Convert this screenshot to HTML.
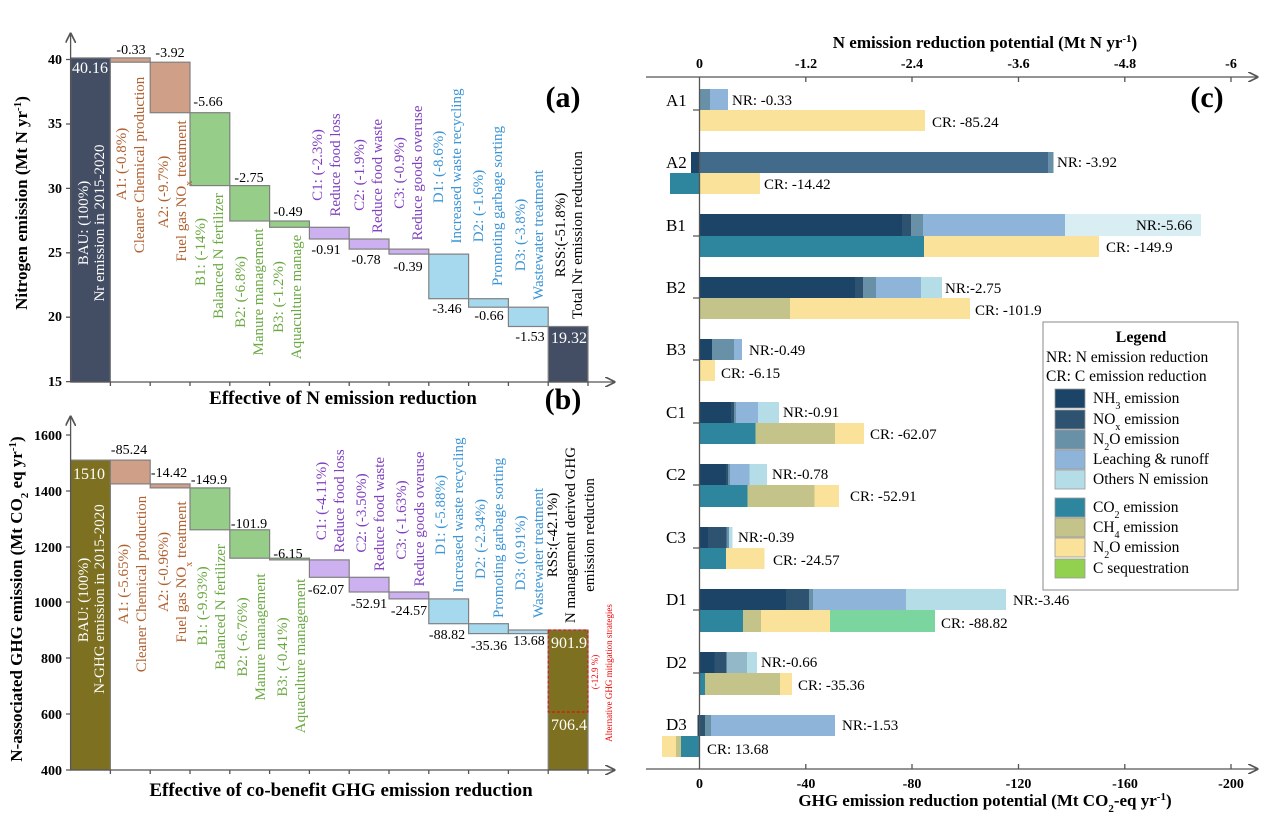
<!DOCTYPE html>
<html><head><meta charset="utf-8"><style>
html,body{margin:0;padding:0;background:#fff}
svg{display:block;font-family:"Liberation Serif",serif}
.v{font-size:14px;fill:#000}
.tk{font-size:14px;font-weight:bold}
.lb{font-size:15px}
</style></head><body>
<svg width="1268" height="820" viewBox="0 0 1268 820" xmlns="http://www.w3.org/2000/svg">
<defs><marker id="ar" markerWidth="8" markerHeight="8" refX="7" refY="4" orient="auto"><path d="M0,0 L8,4 L0,8" fill="none" stroke="#555" stroke-width="1.3"/></marker></defs>

<!-- ===== Panel (a) ===== -->
<g stroke="#808080" stroke-width="1.2">
<rect x="70.6" y="57.9" width="39.8" height="324.1" fill="#434d63"/>
<rect x="110.4" y="57.9" width="39.8" height="4.3" fill="#cf9f88"/>
<rect x="150.2" y="62.2" width="39.8" height="50.5" fill="#cf9f88"/>
<rect x="190" y="112.7" width="39.8" height="72.9" fill="#96cd88"/>
<rect x="229.8" y="185.6" width="39.8" height="35.4" fill="#96cd88"/>
<rect x="269.6" y="221" width="39.8" height="6.3" fill="#96cd88"/>
<rect x="309.4" y="227.3" width="39.8" height="11.7" fill="#cdb0ef"/>
<rect x="349.2" y="239" width="39.8" height="10.1" fill="#cdb0ef"/>
<rect x="389" y="249.1" width="39.8" height="5" fill="#cdb0ef"/>
<rect x="428.8" y="254.1" width="39.8" height="44.6" fill="#a6d9ee"/>
<rect x="468.6" y="298.7" width="39.8" height="8.5" fill="#a6d9ee"/>
<rect x="508.4" y="307.2" width="39.8" height="19.3" fill="#a6d9ee"/>
<rect x="548.2" y="326.5" width="39.8" height="55.5" fill="#434d63"/>
</g>
<g stroke="#555" stroke-width="1.3">
<line x1="70.6" y1="382" x2="70.6" y2="34" marker-end="url(#ar)"/>
<line x1="70.6" y1="382" x2="614" y2="382" marker-end="url(#ar)"/>
<path d="M66,59.5h5M66,124h5M66,188.4h5M66,252.8h5M66,317.2h5M66,381.6h5"/>
<path d="M110.4,382v4M150.2,382v4M190,382v4M229.8,382v4M269.6,382v4M309.4,382v4M349.2,382v4M389,382v4M428.8,382v4M468.6,382v4M508.4,382v4M548.2,382v4M588,382v4"/>
</g>
<g class="tk" text-anchor="end">
<text x="62" y="64">40</text><text x="62" y="128">35</text><text x="62" y="193">30</text>
<text x="62" y="257">25</text><text x="62" y="321">20</text><text x="62" y="386">15</text>
</g>
<text transform="translate(27,203) rotate(-90)" text-anchor="middle" font-size="17" font-weight="bold">Nitrogen emission (Mt N yr<tspan baseline-shift="super" font-size="11">-1</tspan>)</text>
<text x="343" y="404" text-anchor="middle" font-size="19" font-weight="bold">Effective of N emission reduction</text>
<text x="563" y="107" text-anchor="middle" font-size="30" font-weight="bold">(a)</text>
<text x="563" y="409" text-anchor="middle" font-size="30" font-weight="bold">(b)</text>
<g class="v" text-anchor="middle">
<text x="131" y="54">-0.33</text><text x="170" y="57">-3.92</text><text x="208" y="106">-5.66</text>
<text x="249" y="182">-2.75</text><text x="288" y="216">-0.49</text><text x="326" y="254">-0.91</text>
<text x="366" y="264">-0.78</text><text x="408" y="271">-0.39</text><text x="447" y="313">-3.46</text>
<text x="489" y="320">-0.66</text><text x="530" y="341">-1.53</text>
<text x="90" y="73" fill="#fff" style="fill:#fff;font-size:16px">40.16</text>
<text x="569" y="343" style="fill:#fff;font-size:16px">19.32</text>
</g>
<g class="lb" text-anchor="middle">
<g fill="#fff"><text transform="translate(88,223) rotate(-90)">BAU: (100%)</text><text transform="translate(104,223) rotate(-90)">Nr emission in 2015-2020</text></g>
<g fill="#b0602f">
<text transform="translate(126,164) rotate(-90)">A1: (-0.8%)</text><text transform="translate(144,165) rotate(-90)">Cleaner Chemical production</text>
<text transform="translate(168,192) rotate(-90)">A2: (-9.7%)</text><text transform="translate(186,191) rotate(-90)">Fuel gas NO<tspan baseline-shift="sub" font-size="10">x</tspan> treatment</text></g>
<g fill="#6aa842">
<text transform="translate(205,252) rotate(-90)">B1: (-14%)</text><text transform="translate(223,256) rotate(-90)">Balanced N fertilizer</text>
<text transform="translate(245,292) rotate(-90)">B2: (-6.8%)</text><text transform="translate(263,292) rotate(-90)">Manure management</text>
<text transform="translate(283,297) rotate(-90)">B3: (-1.2%)</text><text transform="translate(301,297) rotate(-90)">Aquaculture manage</text></g>
<g fill="#8040c0">
<text transform="translate(322,165) rotate(-90)">C1: (-2.3%)</text><text transform="translate(340,165) rotate(-90)">Reduce food loss</text>
<text transform="translate(364,175) rotate(-90)">C2: (-1.9%)</text><text transform="translate(382,176) rotate(-90)">Reduce food waste</text>
<text transform="translate(404,173) rotate(-90)">C3: (-0.9%)</text><text transform="translate(422,173) rotate(-90)">Reduce goods overuse</text></g>
<g fill="#3a94d6">
<text transform="translate(443,167) rotate(-90)">D1: (-8.6%)</text><text transform="translate(461,166) rotate(-90)">Increased waste recycling</text>
<text transform="translate(483,206) rotate(-90)">D2: (-1.6%)</text><text transform="translate(502,206) rotate(-90)">Promoting garbage sorting</text>
<text transform="translate(525,235) rotate(-90)">D3: (-3.8%)</text><text transform="translate(543,235) rotate(-90)">Wastewater treatment</text></g>
<g fill="#000"><text transform="translate(565,235) rotate(-90)">RSS:(-51.8%)</text><text transform="translate(582,235) rotate(-90)">Total Nr emission reduction</text></g>
</g>

<!-- ===== Panel (b) ===== -->
<g stroke="#808080" stroke-width="1.2">
<rect x="70.6" y="460.1" width="39.8" height="309.9" fill="#7d7020"/>
<rect x="110.4" y="460.1" width="39.8" height="23.8" fill="#cf9f88"/>
<rect x="150.2" y="483.9" width="39.8" height="4" fill="#cf9f88"/>
<rect x="190" y="487.9" width="39.8" height="41.9" fill="#96cd88"/>
<rect x="229.8" y="529.8" width="39.8" height="28.4" fill="#96cd88"/>
<rect x="269.6" y="558.2" width="39.8" height="1.7" fill="#96cd88"/>
<rect x="309.4" y="559.9" width="39.8" height="17.4" fill="#cdb0ef"/>
<rect x="349.2" y="577.3" width="39.8" height="14.7" fill="#cdb0ef"/>
<rect x="389" y="592" width="39.8" height="6.9" fill="#cdb0ef"/>
<rect x="428.8" y="598.9" width="39.8" height="24.8" fill="#a6d9ee"/>
<rect x="468.6" y="623.7" width="39.8" height="9.9" fill="#a6d9ee"/>
<rect x="508.4" y="630" width="39.8" height="3.6" fill="#a6d9ee"/>
<rect x="548.2" y="630" width="39.8" height="140" fill="#7d7020"/>
</g>
<rect x="548.2" y="630" width="39.8" height="82" fill="none" stroke="#e00" stroke-width="1" stroke-dasharray="3,2"/>
<g stroke="#555" stroke-width="1.3">
<line x1="70.6" y1="770" x2="70.6" y2="417" marker-end="url(#ar)"/>
<line x1="70.6" y1="770" x2="614" y2="770" marker-end="url(#ar)"/>
<path d="M66,435h5M66,491h5M66,547h5M66,602h5M66,658h5M66,714h5M66,770h5"/>
<path d="M110.4,770v4M150.2,770v4M190,770v4M229.8,770v4M269.6,770v4M309.4,770v4M349.2,770v4M389,770v4M428.8,770v4M468.6,770v4M508.4,770v4M548.2,770v4M588,770v4"/>
</g>
<g class="tk" text-anchor="end">
<text x="62" y="440">1600</text><text x="62" y="496">1400</text><text x="62" y="552">1200</text>
<text x="62" y="607">1000</text><text x="62" y="663">800</text><text x="62" y="719">600</text><text x="62" y="775">400</text>
</g>
<text transform="translate(22,599) rotate(-90)" text-anchor="middle" font-size="17" font-weight="bold">N-associated GHG emission (Mt CO<tspan baseline-shift="sub" font-size="11">2</tspan> eq yr<tspan baseline-shift="super" font-size="11">-1</tspan>)</text>
<text x="341" y="796" text-anchor="middle" font-size="19" font-weight="bold">Effective of co-benefit GHG emission reduction</text>
<g class="v" text-anchor="middle">
<text x="129" y="454">-85.24</text><text x="169" y="477">-14.42</text><text x="209" y="484">-149.9</text>
<text x="249" y="528">-101.9</text><text x="288" y="558">-6.15</text><text x="326" y="594">-62.07</text>
<text x="369" y="608">-52.91</text><text x="409" y="615">-24.57</text><text x="447" y="639">-88.82</text>
<text x="489" y="650">-35.36</text><text x="529" y="645">13.68</text>
<text x="89" y="479" style="fill:#fff;font-size:16px">1510</text>
<text x="569" y="648" style="fill:#fff;font-size:16px">901.9</text>
<text x="569" y="730" style="fill:#fff;font-size:16px">706.4</text>
</g>
<g class="lb" text-anchor="middle">
<g fill="#fff"><text transform="translate(88,600) rotate(-90)">BAU: (100%)</text><text transform="translate(104,599) rotate(-90)">N-GHG emission in 2015-2020</text></g>
<g fill="#b0602f">
<text transform="translate(128,584) rotate(-90)">A1: (-5.65%)</text><text transform="translate(146,584) rotate(-90)">Cleaner Chemical production</text>
<text transform="translate(168,572) rotate(-90)">A2: (-0.96%)</text><text transform="translate(186,572) rotate(-90)">Fuel gas NO<tspan baseline-shift="sub" font-size="10">x</tspan> treatment</text></g>
<g fill="#6aa842">
<text transform="translate(207,606) rotate(-90)">B1: (-9.93%)</text><text transform="translate(225,607) rotate(-90)">Balanced N fertilizer</text>
<text transform="translate(247,637) rotate(-90)">B2: (-6.76%)</text><text transform="translate(265,637) rotate(-90)">Manure management</text>
<text transform="translate(287,657) rotate(-90)">B3: (-0.41%)</text><text transform="translate(305,656) rotate(-90)">Aquaculture management</text></g>
<g fill="#8040c0">
<text transform="translate(326,501) rotate(-90)">C1: (-4.11%)</text><text transform="translate(344,501) rotate(-90)">Reduce food loss</text>
<text transform="translate(366,513) rotate(-90)">C2: (-3.50%)</text><text transform="translate(384,514) rotate(-90)">Reduce food waste</text>
<text transform="translate(406,520) rotate(-90)">C3: (-1.63%)</text><text transform="translate(424,519) rotate(-90)">Reduce goods overuse</text></g>
<g fill="#3a94d6">
<text transform="translate(445,515) rotate(-90)">D1: (-5.88%)</text><text transform="translate(463,515) rotate(-90)">Increased waste recycling</text>
<text transform="translate(485,539) rotate(-90)">D2: (-2.34%)</text><text transform="translate(503,538) rotate(-90)">Promoting garbage sorting</text>
<text transform="translate(525,553) rotate(-90)">D3: (0.91%)</text><text transform="translate(543,553) rotate(-90)">Wastewater treatment</text></g>
<g fill="#000"><text transform="translate(557,535) rotate(-90)">RSS:(-42.1%)</text><text transform="translate(575,535) rotate(-90)">N management derived GHG</text><text transform="translate(594,535) rotate(-90)">emission reduction</text></g>
<g fill="#e00" font-size="9"><text transform="translate(598,672) rotate(-90)">(-12.9 %)</text><text transform="translate(612,673) rotate(-90)">Alternative GHG mitigation strategies</text></g>
</g>

<!-- ===== Panel (c) ===== -->
<text x="985" y="48" text-anchor="middle" font-size="17" font-weight="bold">N emission reduction potential (Mt N yr<tspan baseline-shift="super" font-size="11">-1</tspan>)</text>
<g class="tk" text-anchor="middle">
<text x="699.5" y="68">0</text><text x="806" y="68">-1.2</text><text x="912" y="68">-2.4</text><text x="1018.5" y="68">-3.6</text><text x="1125" y="68">-4.8</text><text x="1231" y="68">-6</text>
<text x="699.5" y="788">0</text><text x="806" y="788">-40</text><text x="912" y="788">-80</text><text x="1018.5" y="788">-120</text><text x="1125" y="788">-160</text><text x="1231" y="788">-200</text>
</g>
<text x="985" y="806" text-anchor="middle" font-size="17" font-weight="bold">GHG emission reduction potential (Mt CO<tspan baseline-shift="sub" font-size="11">2</tspan>-eq yr<tspan baseline-shift="super" font-size="11">-1</tspan>)</text>
<text x="1207" y="107" text-anchor="middle" font-size="30" font-weight="bold">(c)</text>

<g stroke="none">
<rect x="699.5" y="89" width="10.5" height="21" fill="#6891a8"/><rect x="710" y="89" width="18" height="21" fill="#8fb4d9"/>
<rect x="699.5" y="110" width="225.5" height="21" fill="#fae29b"/>
<rect x="691" y="152" width="8.5" height="21" fill="#1b4466"/><rect x="699.5" y="152" width="348.5" height="21" fill="#426a8a"/><rect x="1048" y="152" width="5.5" height="21" fill="#6891a8"/>
<rect x="670" y="173" width="29.5" height="21" fill="#2e869e"/><rect x="699.5" y="173" width="60.5" height="21" fill="#fae29b"/>
<rect x="699.5" y="214" width="202.5" height="22" fill="#1b4466"/><rect x="902" y="214" width="9" height="22" fill="#2e5370"/><rect x="911" y="214" width="12" height="22" fill="#6891a8"/><rect x="923" y="214" width="142" height="22" fill="#8fb4d9"/><rect x="1065" y="214" width="136" height="22" fill="#d9eef3"/>
<rect x="699.5" y="236" width="224.5" height="21" fill="#2e869e"/><rect x="924" y="236" width="175" height="21" fill="#fae29b"/>
<rect x="699.5" y="277" width="155.5" height="21" fill="#1b4466"/><rect x="855" y="277" width="8" height="21" fill="#2e5370"/><rect x="863" y="277" width="13" height="21" fill="#6891a8"/><rect x="876" y="277" width="45" height="21" fill="#8fb4d9"/><rect x="921" y="277" width="21" height="21" fill="#b5dde8"/>
<rect x="699.5" y="298" width="90.5" height="21" fill="#c4c48a"/><rect x="790" y="298" width="180" height="21" fill="#fae29b"/>
<rect x="699.5" y="339" width="12.5" height="21" fill="#1b4466"/><rect x="712" y="339" width="22" height="21" fill="#6891a8"/><rect x="734" y="339" width="8" height="21" fill="#8fb4d9"/>
<rect x="699.5" y="360" width="15.5" height="21" fill="#fae29b"/>
<rect x="699.5" y="402" width="31.5" height="21" fill="#1b4466"/><rect x="731" y="402" width="3" height="21" fill="#2e5370"/><rect x="734" y="402" width="2" height="21" fill="#6891a8"/><rect x="736" y="402" width="22" height="21" fill="#8fb4d9"/><rect x="758" y="402" width="21" height="21" fill="#b5dde8"/>
<rect x="699.5" y="423" width="56" height="21" fill="#2e869e"/><rect x="755.5" y="423" width="79.5" height="21" fill="#c4c48a"/><rect x="835" y="423" width="29" height="21" fill="#fae29b"/>
<rect x="699.5" y="464" width="26.5" height="21" fill="#1b4466"/><rect x="726" y="464" width="2" height="21" fill="#2e5370"/><rect x="728" y="464" width="2" height="21" fill="#6891a8"/><rect x="730" y="464" width="19.5" height="21" fill="#8fb4d9"/><rect x="749.5" y="464" width="17.5" height="21" fill="#b5dde8"/>
<rect x="699.5" y="485" width="48" height="22" fill="#2e869e"/><rect x="747.5" y="485" width="67" height="22" fill="#c4c48a"/><rect x="814.5" y="485" width="24.5" height="22" fill="#fae29b"/>
<rect x="699.5" y="527" width="8.5" height="21" fill="#1b4466"/><rect x="708" y="527" width="18.5" height="21" fill="#2e5370"/><rect x="726.5" y="527" width="2.5" height="21" fill="#6891a8"/><rect x="729" y="527" width="3.5" height="21" fill="#b5dde8"/>
<rect x="699.5" y="548" width="26.5" height="21" fill="#2e869e"/><rect x="726" y="548" width="38.5" height="21" fill="#fae29b"/>
<rect x="699.5" y="589" width="86.5" height="21" fill="#1b4466"/><rect x="786" y="589" width="23" height="21" fill="#2e5370"/><rect x="809" y="589" width="4" height="21" fill="#6891a8"/><rect x="813" y="589" width="93" height="21" fill="#8fb4d9"/><rect x="906" y="589" width="100" height="21" fill="#b5dde8"/>
<rect x="699.5" y="610" width="43.5" height="22" fill="#2e869e"/><rect x="743" y="610" width="18" height="22" fill="#c4c48a"/><rect x="761" y="610" width="69" height="22" fill="#fae29b"/><rect x="830" y="610" width="105" height="22" fill="#7ad59f"/>
<rect x="699.5" y="652" width="15" height="21" fill="#1b4466"/><rect x="714.5" y="652" width="12" height="21" fill="#2e5370"/><rect x="726.5" y="652" width="20.5" height="21" fill="#93b8c8"/><rect x="747" y="652" width="10" height="21" fill="#b5dde8"/>
<rect x="699.5" y="673" width="5.5" height="22" fill="#2e869e"/><rect x="705" y="673" width="75" height="22" fill="#c4c48a"/><rect x="780" y="673" width="12" height="22" fill="#fae29b"/>
<rect x="697.5" y="715" width="2" height="21" fill="#1b4466"/><rect x="699.5" y="715" width="5.5" height="21" fill="#2e5370"/><rect x="705" y="715" width="6" height="21" fill="#6891a8"/><rect x="711" y="715" width="124" height="21" fill="#8fb4d9"/>
<rect x="662" y="736" width="14" height="21" fill="#fae29b"/><rect x="676" y="736" width="5" height="21" fill="#c4c48a"/><rect x="681" y="736" width="18.5" height="21" fill="#2e869e"/>
</g>
<g stroke="#555" stroke-width="1.3">
<line x1="646" y1="77" x2="1257" y2="77" marker-end="url(#ar)"/>
<line x1="646" y1="769" x2="1257" y2="769" marker-end="url(#ar)"/>
<line x1="699.5" y1="77" x2="699.5" y2="769"/>
<path d="M805.8,77v5M912,77v5M1018.5,77v5M1124.8,77v5M1231,77v5M805.8,769v-5M912,769v-5M1018.5,769v-5M1124.8,769v-5M1231,769v-5"/>
<path d="M693,110h6M693,236h6M693,298h6M693,360h6M693,423h6M693,485h6M693,548h6M693,610h6M693,673h6"/>
</g>
<g font-size="17">
<text x="666" y="106">A1</text><text x="666" y="168">A2</text><text x="666" y="231">B1</text><text x="666" y="293">B2</text>
<text x="666" y="355">B3</text><text x="666" y="418">C1</text><text x="666" y="480">C2</text><text x="666" y="543">C3</text>
<text x="666" y="605">D1</text><text x="666" y="668">D2</text><text x="666" y="730">D3</text>
</g>
<g font-size="15">
<text x="732" y="105">NR: -0.33</text><text x="932" y="127">CR: -85.24</text>
<text x="1057" y="167">NR: -3.92</text><text x="764" y="189">CR: -14.42</text>
<text x="1136" y="230">NR:-5.66</text><text x="1106" y="252">CR: -149.9</text>
<text x="945" y="293">NR:-2.75</text><text x="975" y="315">CR: -101.9</text>
<text x="749" y="355">NR:-0.49</text><text x="721" y="378">CR: -6.15</text>
<text x="783" y="417">NR:-0.91</text><text x="870" y="439">CR: -62.07</text>
<text x="772" y="479">NR:-0.78</text><text x="850" y="501">CR: -52.91</text>
<text x="738" y="542">NR:-0.39</text><text x="773" y="565">CR: -24.57</text>
<text x="1013" y="605">NR:-3.46</text><text x="941" y="628">CR: -88.82</text>
<text x="761" y="667">NR:-0.66</text><text x="798" y="690">CR: -35.36</text>
<text x="842" y="730">NR:-1.53</text><text x="707" y="754">CR: 13.68</text>
</g>
<rect x="1043" y="322" width="195" height="268" fill="#fff" stroke="#888" stroke-width="1"/>
<text x="1141" y="342" text-anchor="middle" font-size="16" font-weight="bold">Legend</text>
<g font-size="15.5">
<text x="1046" y="362">NR: N emission reduction</text>
<text x="1046" y="381">CR: C emission reduction</text>
</g>
<g stroke="#999" stroke-width="0.8">
<rect x="1055" y="389" width="30" height="19" fill="#1b4466"/>
<rect x="1055" y="410" width="30" height="19" fill="#2e5370"/>
<rect x="1055" y="430" width="30" height="19" fill="#6891a8"/>
<rect x="1055" y="450" width="30" height="19" fill="#8fb4d9"/>
<rect x="1055" y="470" width="30" height="19" fill="#b5dde8"/>
<rect x="1055" y="498" width="30" height="19" fill="#2e869e"/>
<rect x="1055" y="518" width="30" height="19" fill="#c4c48a"/>
<rect x="1055" y="538" width="30" height="19" fill="#fae29b"/>
<rect x="1055" y="559" width="30" height="19" fill="#92d050"/>
</g>
<g font-size="15.5">
<text x="1093" y="403">NH<tspan baseline-shift="sub" font-size="10">3</tspan> emission</text>
<text x="1093" y="424">NO<tspan baseline-shift="sub" font-size="10">x</tspan> emission</text>
<text x="1093" y="444">N<tspan baseline-shift="sub" font-size="10">2</tspan>O emission</text>
<text x="1093" y="464">Leaching &amp; runoff</text>
<text x="1093" y="484">Others N emission</text>
<text x="1093" y="512">CO<tspan baseline-shift="sub" font-size="10">2</tspan> emission</text>
<text x="1093" y="532">CH<tspan baseline-shift="sub" font-size="10">4</tspan> emission</text>
<text x="1093" y="552">N<tspan baseline-shift="sub" font-size="10">2</tspan>O emission</text>
<text x="1093" y="573">C sequestration</text>
</g>
</svg>
</body></html>
